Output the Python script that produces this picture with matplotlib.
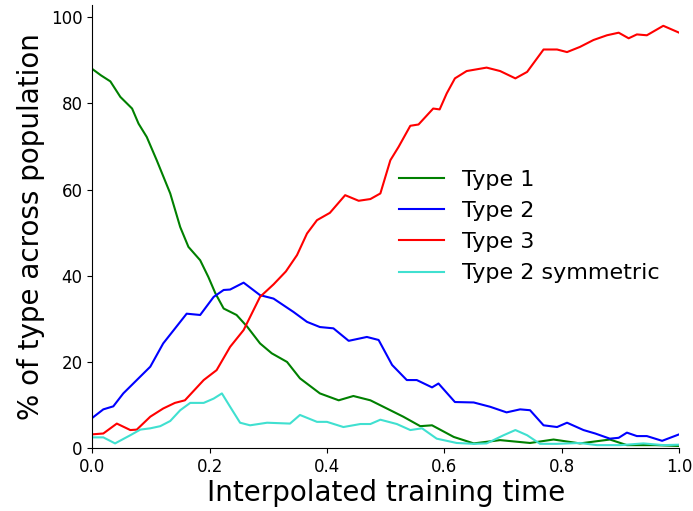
import numpy as np
import matplotlib
matplotlib.use('Agg')
import matplotlib.pyplot as plt

# --- Dati ---
t_type1 = [0, 0.015, 0.031, 0.048, 0.068, 0.079, 0.093, 0.110, 0.133, 0.150, 0.164, 0.184,
           0.198, 0.21, 0.224, 0.246, 0.264, 0.286, 0.306, 0.332, 0.354, 0.388, 0.420, 0.445,
           0.474, 0.502, 0.530, 0.559, 0.579, 0.616, 0.650, 0.695, 0.746, 0.786, 0.831, 0.882,
           0.911, 0.96, 1.0]
type1 = [88, 86.5, 85.1, 81.5, 78.8, 75.3, 72.2, 66.8, 59.1, 51.3, 46.7, 43.6,
         39.7, 35.9, 32.4, 30.9, 28.2, 24.3, 22.0, 20.0, 16.2, 12.7, 11.1, 12.1,
         11.1, 9.2, 7.3, 5.1, 5.3, 2.6, 1.1, 1.86, 1.2, 2.0, 1.1, 2.0,
         0.7, 0.7, 0.5]

t_type2 = [0, 0.019, 0.036, 0.053, 0.076, 0.099, 0.121, 0.139, 0.161, 0.184, 0.207, 0.224,
           0.235, 0.258, 0.286, 0.309, 0.343, 0.366, 0.388, 0.411, 0.437, 0.468, 0.488, 0.511,
           0.536, 0.553, 0.579, 0.590, 0.618, 0.650, 0.678, 0.706, 0.729, 0.746, 0.769, 0.792,
           0.809, 0.837, 0.857, 0.882, 0.897, 0.911, 0.928, 0.945, 0.971, 1.0]
type2 = [7.0, 9.0, 9.7, 12.7, 15.8, 18.9, 24.3, 27.4, 31.2, 30.9, 35.1, 36.7,
         36.8, 38.4, 35.5, 34.7, 31.6, 29.3, 28.1, 27.8, 24.9, 25.8, 25.1, 19.3,
         15.8, 15.8, 14.1, 15.0, 10.7, 10.6, 9.6, 8.3, 9.0, 8.8, 5.3, 4.9,
         5.9, 4.2, 3.4, 2.2, 2.4, 3.6, 2.8, 2.8, 1.7, 3.2]

t_type3 = [0, 0.019, 0.042, 0.065, 0.076, 0.099, 0.121, 0.141, 0.158, 0.19, 0.212, 0.235,
           0.258, 0.286, 0.309, 0.33, 0.349, 0.366, 0.383, 0.405, 0.431, 0.454, 0.474, 0.491,
           0.508, 0.522, 0.542, 0.556, 0.581, 0.592, 0.604, 0.618, 0.638, 0.672, 0.695, 0.721,
           0.741, 0.769, 0.792, 0.809, 0.831, 0.854, 0.877, 0.897, 0.914, 0.928, 0.945, 0.973, 1.0]
type3 = [3.2, 3.4, 5.7, 4.2, 4.3, 7.3, 9.2, 10.5, 11.1, 15.8, 18.1, 23.5,
         27.4, 35.1, 38.0, 41.0, 44.8, 49.8, 52.9, 54.6, 58.7, 57.4, 57.8, 59.1,
         66.8, 69.9, 74.8, 75.1, 78.8, 78.6, 82.3, 85.8, 87.5, 88.3, 87.5, 85.8,
         87.3, 92.5, 92.5, 91.9, 93.1, 94.7, 95.8, 96.4, 95.1, 96.0, 95.8, 98.0, 96.4]

t_type2_sym = [0, 0.019, 0.039, 0.065, 0.082, 0.099, 0.116, 0.133, 0.150, 0.167, 0.190, 0.207,
               0.221, 0.235, 0.252, 0.269, 0.298, 0.337, 0.354, 0.383, 0.40, 0.428, 0.457, 0.474,
               0.491, 0.519, 0.542, 0.562, 0.587, 0.621, 0.65, 0.672, 0.701, 0.721, 0.741, 0.763,
               0.792, 0.831, 0.86, 0.9, 0.939, 0.973, 1.0]
type2_sym = [2.5, 2.5, 1.1, 3.0, 4.3, 4.6, 5.1, 6.3, 8.8, 10.5, 10.5, 11.5,
             12.7, 9.6, 5.9, 5.3, 5.9, 5.7, 7.7, 6.1, 6.1, 4.9, 5.6, 5.6,
             6.6, 5.6, 4.2, 4.6, 2.2, 1.2, 1.0, 1.1, 3.0, 4.2, 3.0, 1.0,
             1.0, 1.2, 0.7, 0.7, 1.1, 0.7, 0.8]

# --- Plot ---
fig = plt.figure(figsize=(6.93, 5.11), dpi=100)
ax = fig.add_axes([0.133, 0.123, 0.847, 0.867])
ax.plot(t_type1, type1, color='green', lw=1.5, label='Type 1')
ax.plot(t_type2, type2, color='blue', lw=1.5, label='Type 2')
ax.plot(t_type3, type3, color='red', lw=1.5, label='Type 3')
ax.plot(t_type2_sym, type2_sym, color='turquoise', lw=1.5, label='Type 2 symmetric')

ax.set_xlim(0, 1)
ax.set_ylim(0, 102.8)
ax.spines['top'].set_visible(False)
ax.spines['right'].set_visible(False)
ax.tick_params(labelsize=12)
ax.set_xlabel('Interpolated training time', fontsize=20, labelpad=2)
ax.set_ylabel('% of type across population', fontsize=20)
ax.legend(loc='center right', frameon=False, fontsize=16)

fig.savefig('out.png', dpi=100)
